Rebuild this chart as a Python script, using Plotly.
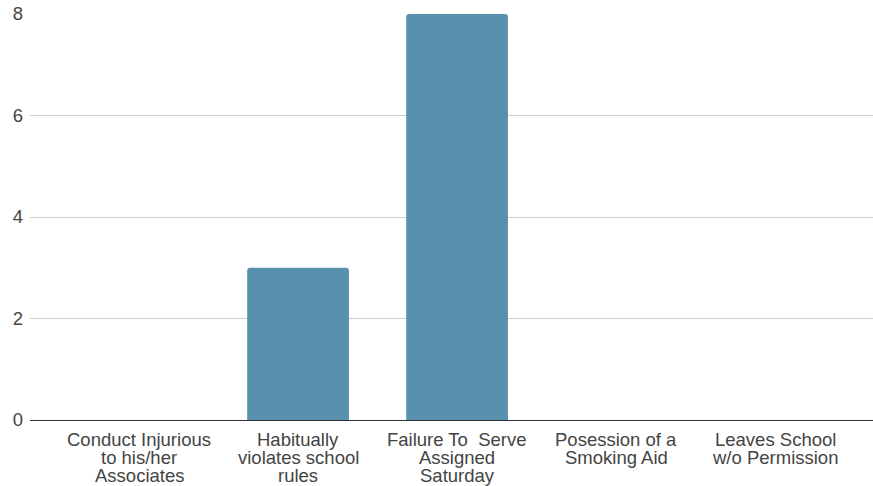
import plotly.graph_objects as go

# Offense categories (one list of text lines per category) and counts
category_lines = [
    ["Conduct Injurious", "to his/her", "Associates"],
    ["Habitually", "violates school", "rules"],
    ["Failure To\u00a0 Serve", "Assigned", "Saturday"],
    ["Posession of a", "Smoking Aid"],
    ["Leaves School", "w/o Permission"],
]
counts = [0, 3, 8, 0, 0]
y_ticks = [0, 2, 4, 6, 8]

categories = [" ".join(lines) for lines in category_lines]

BAR_COLOR = "#5891AD"
TEXT_COLOR = "#444444"
FONT = "Liberation Sans, Arial, sans-serif"
LINE_STEP = 18.3

fig = go.Figure(
    go.Bar(
        x=categories,
        y=counts,
        width=0.64,
        marker=dict(color=BAR_COLOR, line=dict(width=0), cornerradius=3),
        hoverinfo="x+y",
    )
)

# Category labels drawn line by line for tight line spacing
annotations = []
for cat, lines in zip(categories, category_lines):
    for j, line in enumerate(lines):
        annotations.append(
            dict(
                x=cat,
                y=0,
                xref="x",
                yref="y",
                text=line,
                showarrow=False,
                xanchor="center",
                yanchor="middle",
                yshift=-(19 + j * LINE_STEP),
                font=dict(family=FONT, size=18.5, color=TEXT_COLOR),
            )
        )

fig.update_layout(
    width=873,
    height=486,
    margin=dict(l=30, r=0, t=14, b=66),
    paper_bgcolor="white",
    plot_bgcolor="white",
    showlegend=False,
    bargap=0.36,
    annotations=annotations,
    font=dict(family=FONT, size=18.5, color=TEXT_COLOR),
)

fig.update_xaxes(
    type="category",
    range=[-0.686, 4.616],
    showticklabels=False,
    showgrid=False,
    zeroline=False,
    showline=False,
    ticks="",
)

fig.update_yaxes(
    range=[0, 8],
    tickvals=y_ticks,
    ticktext=[str(v) for v in y_ticks],
    showgrid=True,
    gridcolor="#CCCCCC",
    gridwidth=1,
    zeroline=True,
    zerolinecolor="#333333",
    zerolinewidth=1,
    showline=False,
    ticks="",
    ticklabelstandoff=6,
    tickfont=dict(family=FONT, size=18.5, color=TEXT_COLOR),
)

fig.write_html("out.html")
